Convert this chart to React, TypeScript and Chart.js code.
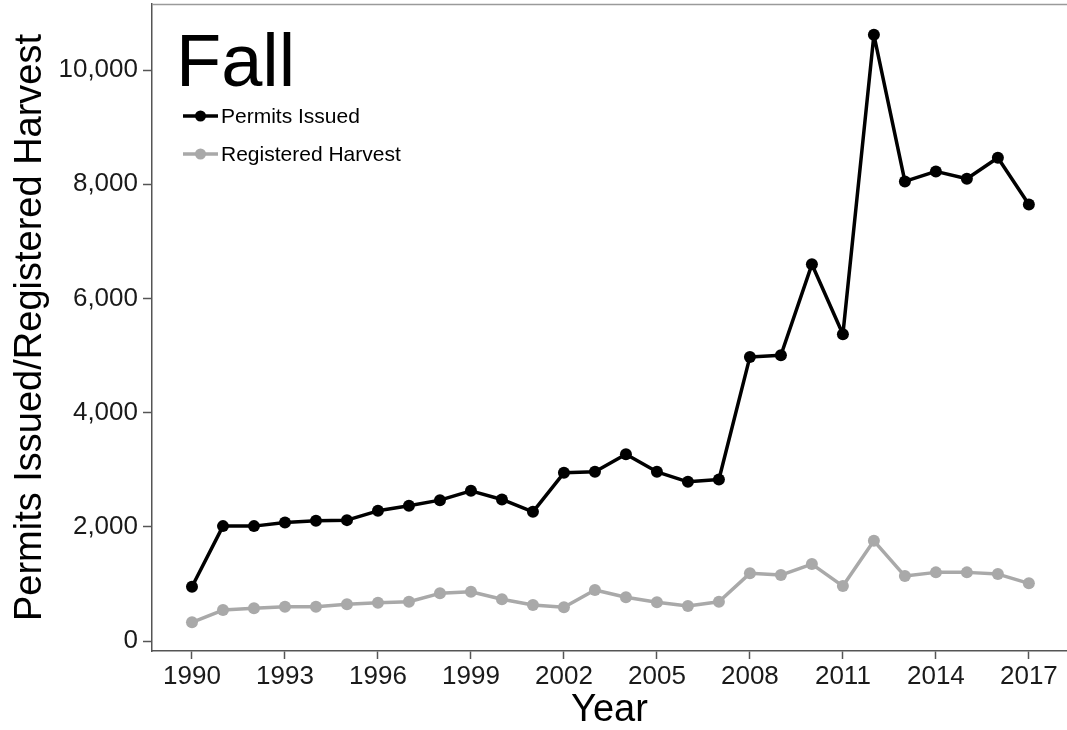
import React, { useEffect, useRef } from "react";
import { Chart, registerables } from "chart.js";

Chart.register(...registerables);

const years = [
  1990, 1991, 1992, 1993, 1994, 1995, 1996, 1997, 1998, 1999,
  2000, 2001, 2002, 2003, 2004, 2005, 2006, 2007, 2008, 2009,
  2010, 2011, 2012, 2013, 2014, 2015, 2016, 2017,
];

const permitsIssued = [
  950, 2012, 2012, 2077, 2105, 2117, 2280, 2368, 2467, 2630,
  2479, 2263, 2945, 2963, 3272, 2963, 2788, 2829, 4975, 5004,
  6597, 5372, 10616, 8049, 8224, 8096, 8464, 7646,
];

const registeredHarvest = [
  327, 542, 572, 600, 600, 642, 670, 688, 835, 863,
  730, 630, 590, 892, 765, 677, 612, 688, 1185, 1155,
  1347, 962, 1755, 1137, 1202, 1202, 1172, 1010,
];

const xTickValues = [1990, 1993, 1996, 1999, 2002, 2005, 2008, 2011, 2014, 2017];
const yTickValues = [0, 2000, 4000, 6000, 8000, 10000];

const seriesLabels = ["Permits Issued", "Registered Harvest"];
const panelTitle = "Fall";
const xTitle = "Year";
const yTitle = "Permits Issued/Registered Harvest";

const FONT = "'Liberation Sans', Arial, sans-serif";
const BLACK = "#000000";
const GRAY = "#a9a9a9";

const overlayPlugin = {
  id: "overlay",
  afterDraw(chart: any) {
    const { ctx, chartArea } = chart;
    ctx.save();
    // top panel border
    ctx.strokeStyle = "#9a9a9a";
    ctx.lineWidth = 1.5;
    ctx.beginPath();
    ctx.moveTo(chartArea.left, chartArea.top + 0.5);
    ctx.lineTo(chartArea.right, chartArea.top + 0.5);
    ctx.stroke();

    // panel title
    ctx.fillStyle = "#000";
    ctx.font = `74px ${FONT}`;
    ctx.textBaseline = "alphabetic";
    ctx.textAlign = "left";
    ctx.fillText(panelTitle, 176, 86);

    // legend
    const items = chart.data.datasets;
    const ys = [116, 154];
    items.forEach((ds: any, i: number) => {
      const y = ys[i];
      ctx.strokeStyle = ds.borderColor;
      ctx.lineWidth = 3.5;
      ctx.beginPath();
      ctx.moveTo(183, y);
      ctx.lineTo(218, y);
      ctx.stroke();
      ctx.fillStyle = ds.borderColor;
      ctx.beginPath();
      ctx.arc(200.5, y, 5.5, 0, Math.PI * 2);
      ctx.fill();
      ctx.fillStyle = "#000";
      ctx.font = `21px ${FONT}`;
      ctx.textBaseline = "middle";
      ctx.fillText(ds.label, 221, y + 1);
    });
    ctx.restore();
  },
};

const zeroPad = (s: any) => {
  s.paddingTop = 0;
  s.paddingBottom = 0;
  s.paddingLeft = 0;
  s.paddingRight = 0;
};

export default function App() {
  const canvasRef = useRef<HTMLCanvasElement | null>(null);

  useEffect(() => {
    if (!canvasRef.current) return;
    const toPoints = (vals: number[]) => years.map((yr, i) => ({ x: yr, y: vals[i] }));
    const chart = new Chart(canvasRef.current, {
      type: "line",
      data: {
        datasets: [
          {
            label: seriesLabels[0],
            data: toPoints(permitsIssued),
            borderColor: BLACK,
            backgroundColor: BLACK,
            borderWidth: 3.5,
            borderJoinStyle: "round",
            pointRadius: 6,
            pointBorderWidth: 0,
            pointBackgroundColor: BLACK,
            tension: 0,
          },
          {
            label: seriesLabels[1],
            data: toPoints(registeredHarvest),
            borderColor: GRAY,
            backgroundColor: GRAY,
            borderWidth: 3.5,
            borderJoinStyle: "round",
            pointRadius: 6,
            pointBorderWidth: 0,
            pointBackgroundColor: GRAY,
            tension: 0,
          },
        ],
      },
      options: {
        animation: false,
        responsive: false,
        maintainAspectRatio: false,
        devicePixelRatio: 1,
        layout: { autoPadding: false, padding: { top: 4, left: 0, right: 0, bottom: 0 } },
        plugins: {
          legend: { display: false },
          tooltip: { enabled: false },
        },
        scales: {
          x: {
            type: "linear",
            min: 1988.71,
            max: 2018.23,
            afterBuildTicks: (s: any) => {
              s.ticks = xTickValues.map((v) => ({ value: v }));
            },
            afterFit: (s: any) => {
              s.height = 79;
              zeroPad(s);
            },
            ticks: {
              autoSkip: false,
              maxRotation: 0,
              padding: 2,
              color: "#1a1a1a",
              font: { family: FONT, size: 26 },
              callback: (v: any) => String(v),
            },
            grid: {
              drawOnChartArea: false,
              drawTicks: true,
              tickLength: 8,
              tickWidth: 1.5,
              tickColor: "#555",
            },
            border: { display: true, color: "#555", width: 1.5 },
            title: {
              display: true,
              text: xTitle,
              color: "#000",
              font: { family: FONT, size: 38, lineHeight: 1 },
              padding: { top: 0, bottom: 0 },
            },
          },
          y: {
            type: "linear",
            min: -175,
            max: 11156,
            afterBuildTicks: (s: any) => {
              s.ticks = yTickValues.map((v) => ({ value: v }));
            },
            afterFit: (s: any) => {
              s.width = 152;
              zeroPad(s);
            },
            ticks: {
              padding: 5,
              color: "#1a1a1a",
              font: { family: FONT, size: 26 },
              callback: (v: any) => Number(v).toLocaleString("en-US"),
            },
            grid: {
              drawOnChartArea: false,
              drawTicks: true,
              tickLength: 9,
              tickWidth: 1.5,
              tickColor: "#555",
            },
            border: { display: true, color: "#555", width: 1.5 },
            title: {
              display: true,
              text: yTitle,
              color: "#000",
              font: { family: FONT, size: 38, lineHeight: 1 },
              padding: { top: 12, bottom: 0 },
            },
          },
        },
      },
      plugins: [overlayPlugin],
    });
    return () => chart.destroy();
  }, []);

  return (
    <div style={{ position: "fixed", left: 0, top: 0, width: 1067, height: 730, background: "#fff" }}>
      <canvas ref={canvasRef} width={1067} height={730} style={{ display: "block" }} />
    </div>
  );
}
